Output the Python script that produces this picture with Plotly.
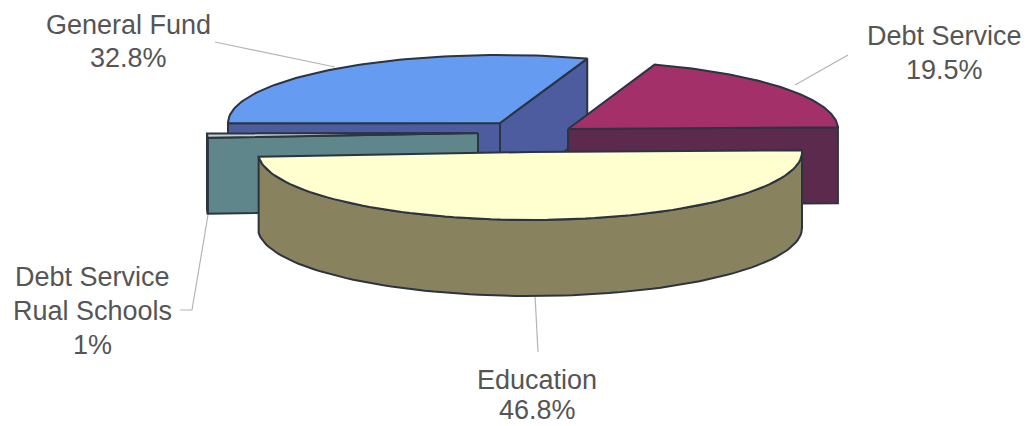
import numpy as np
import plotly.graph_objects as go

# Budget shares, in percent, starting at 3 o'clock and running counter-clockwise
names = ["Debt Service", "General Fund", "Debt Service Rural", "Education"]
shares = [19.5, 32.8, 1.0, 46.8]
label_lines = [
    ["Debt Service", "19.5%"],
    ["General Fund", "32.8%"],
    ["Debt Service", "Rual Schools", "1%"],
    ["Education", "46.8%"],
]

# Colours for the lit top face and the shaded walls of each slice
top_colors = ["#a4306a", "#659cf2", "#c4d2cc", "#ffffcf"]
wall_colors = ["#5c2a4c", "#4c5c9e", "#5f868b", "#88825f"]
outline = "#2b3440"

# Projected pie geometry, in page pixels
semi_x = [270, 272, 271, 272]
semi_y = 68
depth = 76
centers = [(568, 129), (500, 123), (478, 133), (530, 152)]
label_anchor = [(944, 36), (128, 25), (92, 277), (537, 380)]
line_gap = [34, 33, 34, 30]
leader_x = [[848, 795], [215, 335], [180, 192, 208], [538, 535]]
leader_y = [[55, 85], [42, 67], [310, 310, 215], [352, 295]]


def view_angle(deg):
    """First-slice rotation plus foreshortening of the back-left sweep."""
    rad = np.radians(deg)
    return deg + 1.5 - 9.5 * np.sin(rad / 2) ** 6


def slice_angles(values):
    edges = np.cumsum([0.0] + list(values)) / sum(values) * 360.0
    return [(view_angle(a), view_angle(b)) for a, b in zip(edges[:-1], edges[1:])]


def rim(center, a, start, end):
    t = np.radians(np.linspace(start, end, 90))
    return center[0] + a * np.cos(t), center[1] - semi_y * np.sin(t)


def add_poly(fig, xs, ys, color):
    fig.add_trace(go.Scatter(
        x=list(xs), y=list(ys), mode="lines", fill="toself", fillcolor=color,
        line=dict(color=outline, width=2), hoverinfo="skip", showlegend=False,
    ))


fig = go.Figure()
angles = slice_angles(shares)

# Leader lines sit under the pie
for lx, ly in zip(leader_x, leader_y):
    fig.add_trace(go.Scatter(
        x=lx, y=ly, mode="lines", line=dict(color="#b4b4b4", width=1.2),
        hoverinfo="skip", showlegend=False,
    ))

# Painter's order: back slices first, the large front slice last
for i in [1, 0, 2, 3]:
    c, a = centers[i], semi_x[i]
    start, end = angles[i]
    rx, ry = rim(c, a, start, end)

    # Flat cut faces from apex to rim, drawn only when turned toward the viewer
    edges = [(rx[0], ry[0], start - 90), (rx[-1], ry[-1], end + 90)]
    for x_end, y_end, normal in edges:
        if np.sin(np.radians(normal)) < 0:
            add_poly(
                fig,
                [c[0], x_end, x_end, c[0], c[0]],
                [c[1], y_end, y_end + depth, c[1] + depth, c[1]],
                wall_colors[i],
            )

    # Curved outer wall, only where the rim faces the viewer
    lo, hi = max(start, 180.0), min(end, 360.0)
    if hi > lo:
        wx, wy = rim(c, a, lo, hi)
        add_poly(
            fig,
            np.r_[wx, wx[::-1], wx[0]],
            np.r_[wy, wy[::-1] + depth, wy[0]],
            wall_colors[i],
        )

    add_poly(fig, np.r_[c[0], rx, c[0]], np.r_[c[1], ry, c[1]], top_colors[i])

# Each label line is placed separately to keep the wide line spacing
annotations = []
for lines, (ax, ay), gap in zip(label_lines, label_anchor, line_gap):
    for k, text in enumerate(lines):
        annotations.append(dict(
            x=ax, y=ay + k * gap, text=text, showarrow=False,
            xref="x", yref="y", xanchor="center", yanchor="middle",
            font=dict(family="Liberation Sans", size=27, color="#555555"),
        ))

fig.update_layout(
    width=1026, height=426, margin=dict(l=0, r=0, t=0, b=0),
    paper_bgcolor="white", plot_bgcolor="white", showlegend=False,
    xaxis=dict(range=[0, 1026], visible=False, fixedrange=True),
    yaxis=dict(range=[426, 0], visible=False, fixedrange=True),
    annotations=annotations,
)

fig.write_html("out.html", config={"displayModeBar": False})
